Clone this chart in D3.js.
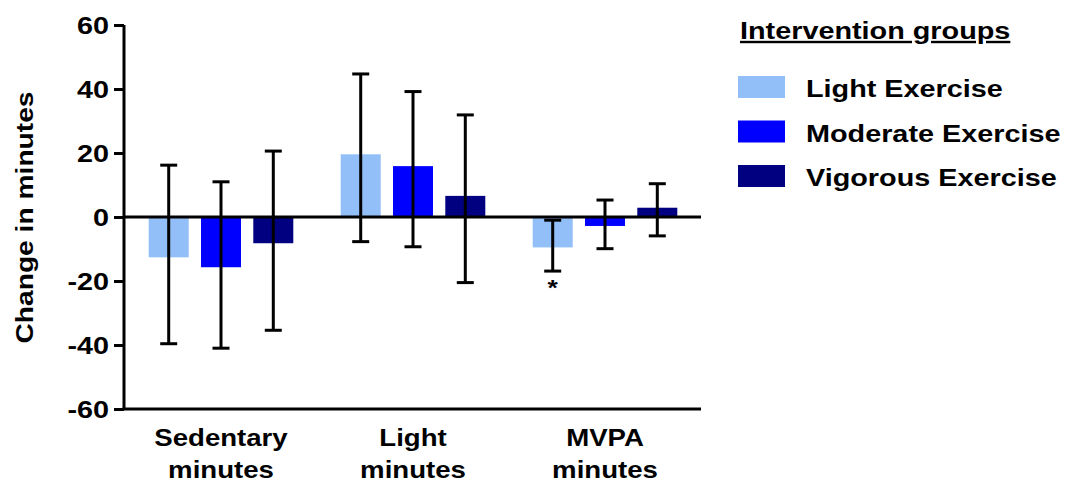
<!DOCTYPE html>
<html>
<head>
<meta charset="utf-8">
<script src="https://cdn.jsdelivr.net/npm/d3@7"></script>
<style>
  body { margin: 0; background: #fff; }
  text { font-family: "Liberation Sans", Arial, sans-serif; font-weight: bold; fill: #000; }
</style>
</head>
<body>
<script>
var categories = [["Sedentary", "minutes"], ["Light", "minutes"], ["MVPA", "minutes"]];
var seriesNames = ["Light Exercise", "Moderate Exercise", "Vigorous Exercise"];
var seriesColors = ["#92bff8", "#0000ff", "#000080"];
// mean change per category, one array per group
var lightMean = [-12.6, 19.6, -9.5];
var moderateMean = [-15.7, 15.9, -2.8];
var vigorousMean = [-8.2, 6.6, 2.9];
// error bar ends
var lightLow = [-39.6, -7.7, -16.9];
var lightHigh = [16.2, 44.7, -1.0];
var moderateLow = [-41.0, -9.3, -9.9];
var moderateHigh = [11.0, 39.2, 5.3];
var vigorousLow = [-35.4, -20.5, -5.9];
var vigorousHigh = [20.6, 31.9, 10.4];
var yTicks = [-60, -40, -20, 0, 20, 40, 60];

var means = [lightMean, moderateMean, vigorousMean];
var lows = [lightLow, moderateLow, vigorousLow];
var highs = [lightHigh, moderateHigh, vigorousHigh];
var sx = 1.2; // the original font is drawn wider than Arial

var rows = [];
categories.forEach(function(c, ci) {
  seriesNames.forEach(function(s, si) {
    rows.push({cat: ci, series: si, mean: means[si][ci], low: lows[si][ci], high: highs[si][ci]});
  });
});

var svg = d3.select("body").append("svg")
            .attr("width", 1069)
            .attr("height", 483);

var y = d3.scaleLinear().domain([-60, 60]).range([409, 25]);
var x0 = d3.scaleBand().domain(d3.range(categories.length)).range([125, 701]);
var x1 = d3.scaleBand().domain(d3.range(seriesNames.length)).range([-72.3, 72.3]).paddingInner(0.235);

function cx(d) { return x0(d.cat) + x0.bandwidth() / 2; }

// wide text helper: place at (x, y) and stretch along the baseline
function wideText(sel, x, yy, size, rot) {
  return sel.append("text")
    .attr("transform", "translate(" + x + "," + yy + ")" + (rot ? " rotate(" + rot + ")" : "") + " scale(" + sx + ",1)")
    .style("font-size", size + "px");
}

// y axis
var yAxis = svg.append("g")
    .attr("transform", "translate(124,0)")
    .call(d3.axisLeft(y).tickValues(yTicks).tickSize(10).tickPadding(5));
yAxis.select(".domain").attr("stroke-width", 3).attr("d", "M0," + y(60) + "V" + y(-60));
yAxis.selectAll(".tick line").attr("stroke-width", 3);
yAxis.selectAll(".tick text")
    .style("font-size", "24px")
    .attr("x", -15 / sx)
    .attr("dy", "0.36em")
    .attr("transform", "scale(" + sx + ",1)")
    .text(function(d) { return d; });

// bottom axis line
svg.append("line")
    .attr("x1", 122.5).attr("x2", 701)
    .attr("y1", y(-60)).attr("y2", y(-60))
    .attr("stroke", "#000").attr("stroke-width", 3);

// bars
svg.selectAll("rect.bar")
    .data(rows)
    .enter().append("rect")
    .attr("class", "bar")
    .attr("x", function(d) { return cx(d) + x1(d.series); })
    .attr("width", x1.bandwidth())
    .attr("y", function(d) { return y(Math.max(0, d.mean)); })
    .attr("height", function(d) { return Math.abs(y(d.mean) - y(0)); })
    .attr("fill", function(d) { return seriesColors[d.series]; });

// zero line
svg.append("line")
    .attr("x1", 124).attr("x2", 701)
    .attr("y1", y(0)).attr("y2", y(0))
    .attr("stroke", "#000").attr("stroke-width", 3);

// error bars
var err = svg.selectAll("g.err")
    .data(rows)
    .enter().append("g")
    .attr("class", "err")
    .attr("transform", function(d) { return "translate(" + (cx(d) + x1(d.series) + x1.bandwidth() / 2) + ",0)"; });
err.append("line")
    .attr("y1", function(d) { return y(d.low); })
    .attr("y2", function(d) { return y(d.high); })
    .attr("stroke", "#000").attr("stroke-width", 3);
err.selectAll("line.cap")
    .data(function(d) { return [d.low, d.high]; })
    .enter().append("line")
    .attr("class", "cap")
    .attr("x1", -8.5).attr("x2", 8.5)
    .attr("y1", function(v) { return y(v); })
    .attr("y2", function(v) { return y(v); })
    .attr("stroke", "#000").attr("stroke-width", 3);

// significance marker
var star = rows.filter(function(d) { return d.cat === 2 && d.series === 0; })[0];
wideText(svg, cx(star) + x1(0) + x1.bandwidth() / 2, y(star.low) + 24, 22)
    .attr("text-anchor", "middle")
    .text("*");

// category labels
categories.forEach(function(lines, i) {
  lines.forEach(function(t, li) {
    wideText(svg, x0(i) + x0.bandwidth() / 2, 446 + li * 32, 23)
        .attr("text-anchor", "middle")
        .text(t);
  });
});

// y axis title
wideText(svg, 33, 217.5, 23.5, -90)
    .attr("text-anchor", "middle")
    .text("Change in minutes");

// legend
wideText(svg, 740, 39, 24)
    .style("text-decoration", "underline")
    .text("Intervention groups");

var legend = svg.selectAll("g.legend")
    .data(seriesNames)
    .enter().append("g")
    .attr("class", "legend")
    .attr("transform", function(d, i) { return "translate(738," + (76 + i * 44.5) + ")"; });
legend.append("rect")
    .attr("width", 47).attr("height", 22)
    .attr("fill", function(d, i) { return seriesColors[i]; });
legend.each(function(d) {
  wideText(d3.select(this), 68, 21, 24).text(d);
});
</script>
</body>
</html>
